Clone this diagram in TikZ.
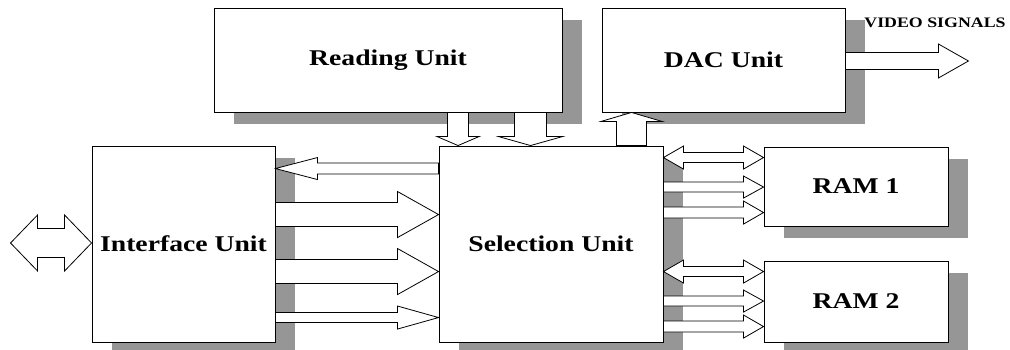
\documentclass[tikz,border=0pt]{standalone}
\usepackage{fontspec}
\setmainfont{Liberation Serif}[FakeStretch=1.23]
\usepackage{tikz}
\usetikzlibrary{calc,shadows}
\definecolor{shadowgray}{RGB}{150,150,150}

\tikzset{
  blockunit/.style={draw, line width=0.9pt, fill=white, inner sep=0pt,
    font=\fontsize{22.5}{26}\selectfont\bfseries,
    drop shadow={shadow xshift=20pt, shadow yshift=-12pt, fill=shadowgray, opacity=1}},
  barrow/.style={draw, fill=white, line width=0.8pt, line join=miter}
}

% fat arrow: from, to, half shaft, half head, head length
\newcommand{\fatarrow}[5]{%
  \coordinate (fa-b) at ($(#2)!#5!(#1)$);
  \draw[barrow] ($(#1)!#3!90:(#2)$) -- ($(fa-b)!#3!90:(#2)$) -- ($(fa-b)!#4!90:(#2)$) -- (#2)
    -- ($(fa-b)!#4!-90:(#2)$) -- ($(fa-b)!#3!-90:(#2)$) -- ($(#1)!#3!-90:(#2)$) -- cycle;
}
% fat arrow with two heads
\newcommand{\fatdarrow}[5]{%
  \coordinate (fa-a) at ($(#1)!#5!(#2)$);
  \coordinate (fa-b) at ($(#2)!#5!(#1)$);
  \draw[barrow] (#1) -- ($(fa-a)!#4!90:(#2)$) -- ($(fa-a)!#3!90:(#2)$) -- ($(fa-b)!#3!90:(#2)$)
    -- ($(fa-b)!#4!90:(#2)$) -- (#2) -- ($(fa-b)!#4!-90:(#2)$) -- ($(fa-b)!#3!-90:(#2)$)
    -- ($(fa-a)!#3!-90:(#2)$) -- ($(fa-a)!#4!-90:(#2)$) -- cycle;
}

\begin{document}
\begin{tikzpicture}[x=1pt, y=-1pt]
\useasboundingbox (0,0) rectangle (1010,350);

\node[blockunit, minimum width=348pt, minimum height=104pt] (read)  at (388,60)    {Reading Unit};
\node[blockunit, minimum width=243pt, minimum height=104pt] (dac)   at (723.5,60)  {DAC Unit};
\node[blockunit, minimum width=183pt, minimum height=196pt] (iface) at (183.5,244) {Interface Unit};
\node[blockunit, minimum width=224pt, minimum height=196pt] (sel)   at (551,244)   {Selection Unit};
\node[blockunit, minimum width=184pt, minimum height=79pt]  (ram1)  at (856,186.5) {RAM 1};
\node[blockunit, minimum width=184pt, minimum height=81pt]  (ram2)  at (856,301.5) {RAM 2};

\node[font=\fontsize{14.5}{17}\selectfont\bfseries] (video) at (935,23) {VIDEO SIGNALS};

% outside <-> interface
\coordinate (ext) at ($(iface.west)+(-81,-1)$);
\coordinate (iw) at (ext -| iface.west);
\fatdarrow{ext}{iw}{14.5pt}{28pt}{27pt}

% selection -> interface
\coordinate (s0) at ($(sel.north west)+(0,23)$);
\coordinate (i0) at (s0 -| iface.east);
\fatarrow{s0}{i0}{5.5pt}{11pt}{42pt}
% interface -> selection
\coordinate (i1) at ($(iface.north east)+(0,69)$);
\coordinate (s1) at (i1 -| sel.west);
\fatarrow{i1}{s1}{12pt}{23pt}{41pt}
\coordinate (i2) at ($(iface.north east)+(0,126)$);
\coordinate (s2) at (i2 -| sel.west);
\fatarrow{i2}{s2}{12pt}{23pt}{41pt}
\coordinate (i3) at ($(iface.north east)+(0,172)$);
\coordinate (s3) at (i3 -| sel.west);
\fatarrow{i3}{s3}{5pt}{11.5pt}{41pt}

% reading -> selection
\coordinate (r1) at ($(read.south west)+(244.5,0)$);
\coordinate (r1s) at (r1 |- sel.north);
\fatarrow{r1}{r1s}{10.5pt}{21pt}{9pt}
\coordinate (r2) at ($(read.south west)+(317,0)$);
\coordinate (r2s) at (r2 |- sel.north);
\fatarrow{r2}{r2s}{16pt}{32pt}{9pt}

% selection -> dac -> video
\coordinate (d1) at ($(sel.north west)+(193,0)$);
\coordinate (d1d) at (d1 |- dac.south);
\fatarrow{d1}{d1d}{15pt}{30.5pt}{9pt}
\coordinate (v0) at ($(dac.east)+(0,1)$);
\coordinate (v1) at ($(v0)+(123,0)$);
\fatarrow{v0}{v1}{8.5pt}{17pt}{30pt}

% selection <-> ram
\foreach \r in {ram1,ram2}{
  \coordinate (\r-a) at ($(\r.north west)+(0,11)$);
  \coordinate (\r-as) at (\r-a -| sel.east);
  \fatdarrow{\r-as}{\r-a}{5pt}{11.5pt}{20pt}
  \coordinate (\r-b) at ($(\r.north west)+(0,40.5)$);
  \coordinate (\r-bs) at (\r-b -| sel.east);
  \fatarrow{\r-bs}{\r-b}{5pt}{11pt}{20pt}
  \coordinate (\r-c) at ($(\r.north west)+(0,66)$);
  \coordinate (\r-cs) at (\r-c -| sel.east);
  \fatarrow{\r-cs}{\r-c}{5.5pt}{11.5pt}{20pt}
}
\end{tikzpicture}
\end{document}
